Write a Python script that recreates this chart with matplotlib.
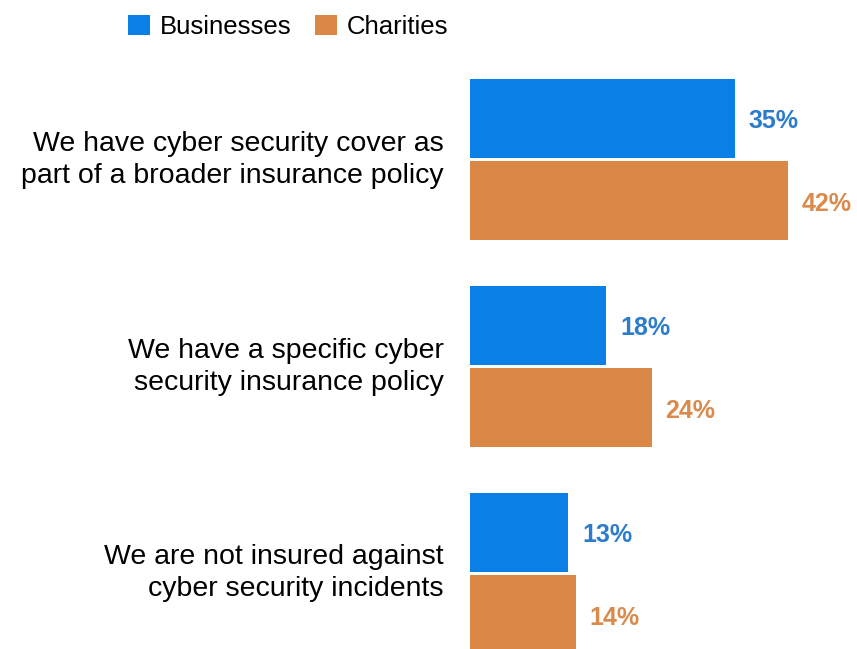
import numpy as np
import matplotlib.pyplot as plt
from matplotlib.transforms import ScaledTranslation

plt.rcParams['font.family'] = ['Liberation Sans', 'DejaVu Sans']

# Survey answers, one group per statement
categories = [
    'We have cyber security cover as\npart of a broader insurance policy',
    'We have a specific cyber\nsecurity insurance policy',
    'We are not insured against\ncyber security incidents',
]
businesses = [35, 18, 13]
charities = [42, 24, 14]

blue = '#0A80E6'
orange = '#DB8745'
blue_text = '#2C7CCD'
orange_text = '#D98A4C'

fig = plt.figure(figsize=(8.57, 6.49), dpi=100)
ax = fig.add_axes([470 / 857, 0, 387 / 857, 1])

y = np.arange(len(categories))
offset = 0.2
height = 0.382

b1 = ax.barh(y - offset, businesses, height=height, color=blue, label='Businesses')
b2 = ax.barh(y + offset, charities, height=height, color=orange, label='Charities')

# value labels just past the end of each bar
for bars, vals, col in [(b1, businesses, blue_text), (b2, charities, orange_text)]:
    for bar, v in zip(bars, vals):
        ax.annotate(f'{v}%', (bar.get_width(), bar.get_y() + bar.get_height() / 2),
                    xytext=(10, -2), textcoords='offset points',
                    ha='left', va='center', fontsize=18, fontweight='bold', color=col)

ax.set_xlim(0, 387 / 7.57)
ax.set_ylim(2.365, -0.771)
ax.set_yticks(y)
ax.set_yticklabels(categories, fontsize=20.5, ha='right', linespacing=1.3)
ax.tick_params(axis='y', length=0, pad=19)
ax.tick_params(axis='x', bottom=False, labelbottom=False)
# lift the category labels a little above the group centre
shift = ScaledTranslation(0, 6 / 100, fig.dpi_scale_trans)
for lbl in ax.get_yticklabels():
    lbl.set_transform(lbl.get_transform() + shift)
for s in ax.spines.values():
    s.set_visible(False)

fig.legend(handles=[b1, b2], loc='upper left', bbox_to_anchor=(110 / 857, 1.005),
           ncol=2, frameon=False, fontsize=18.5, handlelength=0.85, handleheight=0.85,
           handletextpad=0.4, columnspacing=0.9, borderaxespad=0.3)

fig.savefig('out.png', dpi=100)
